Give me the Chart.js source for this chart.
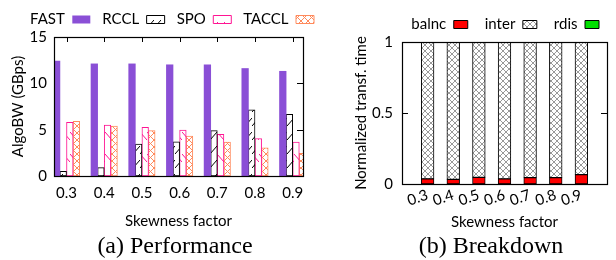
<!DOCTYPE html>
<html>
<head>
<meta charset="utf-8">
<script src="https://cdn.jsdelivr.net/npm/chart.js@4"></script>
<style>
  body { margin: 0; background: #fff; }
  .wrap { position: relative; width: 616px; height: 260px; overflow: hidden; }
  #perf { position: absolute; left: 0; top: 0; }
  #brk { position: absolute; left: 326px; top: 0; }
  .caption {
    position: absolute; top: 232px; height: 26px; line-height: 26px;
    font-family: 'Liberation Serif', serif; font-size: 24px; color: #000;
    text-align: center; white-space: nowrap;
  }
  #capA { left: 0; width: 350px; }
  #capB { left: 391px; width: 200px; }
</style>
</head>
<body>
<div class="wrap">
  <canvas id="perf" width="326" height="260"></canvas>
  <canvas id="brk" width="290" height="260"></canvas>
  <div class="caption" id="capA">(a) Performance</div>
  <div class="caption" id="capB">(b) Breakdown</div>
</div>
<script>
// Skewness factors (x categories)
const skew = [0.3, 0.4, 0.5, 0.6, 0.7, 0.8, 0.9];

// (a) Performance, AlgoBW in GBps
const fast  = [12.4, 12.1, 12.1, 12.0, 12.0, 11.6, 11.3];
const rccl  = [0.5, 0.9, 3.45, 3.7, 4.9, 7.15, 6.65];
const spo   = [5.8, 5.5, 5.25, 4.95, 4.5, 4.05, 3.65];
const taccl = [5.9, 5.4, 4.9, 4.3, 3.65, 3.05, 2.45];
const perfTicks = [0, 5, 10, 15];

// (b) Breakdown, normalized transfer time
const balnc = [0.036, 0.033, 0.047, 0.036, 0.045, 0.045, 0.066];
const inter = [0.964, 0.967, 0.953, 0.964, 0.955, 0.955, 0.934];
const rdis  = [0, 0, 0, 0, 0, 0, 0];
const brkTicks = [0, 0.5, 1];

Chart.defaults.font.family = 'Lato';
Chart.defaults.font.size = 15;
Chart.defaults.color = '#000';
Chart.defaults.animation = false;

// small tile patterns for hatched bars
function makePattern(w, h, color, draw) {
    const c = document.createElement('canvas');
    c.width = w; c.height = h;
    const x = c.getContext('2d');
    x.fillStyle = '#fff';
    x.fillRect(0, 0, w, h);
    x.strokeStyle = color;
    x.lineWidth = 1;
    x.beginPath();
    draw(x, w, h);
    x.stroke();
    return x.createPattern(c, 'repeat');
}

const rcclFill = makePattern(7, 14, '#000', (x, w, h) => {
    x.moveTo(0, h); x.lineTo(w, h - 8);
});
const spoFill = makePattern(7, 22, '#ff1493', (x, w, h) => {
    x.moveTo(0, 0); x.lineTo(w, 8);
});
const tacclFill = makePattern(7, 14, '#ff8a5c', (x, w, h) => {
    x.moveTo(0, 0); x.lineTo(w, 7); x.lineTo(0, 14);
    x.moveTo(w, 0); x.lineTo(0, 7); x.lineTo(w, 14);
});
const interFill = makePattern(6, 6, '#999', (x, w, h) => {
    x.moveTo(0, 0); x.lineTo(w, h);
    x.moveTo(w, 0); x.lineTo(0, h);
});

// gnuplot-like frame with inward tick marks
const framePlugin = {
    id: 'frame',
    beforeDatasetsDraw(chart) {
        const ctx = chart.ctx, a = chart.chartArea;
        const xs = chart.scales.x, ys = chart.scales.y;
        ctx.save();
        ctx.strokeStyle = '#000';
        ctx.lineWidth = 1;
        ctx.beginPath();
        xs.ticks.forEach(t => {
            const px = Math.round(xs.getPixelForValue(t.value)) + 0.5;
            ctx.moveTo(px, a.bottom); ctx.lineTo(px, a.bottom - 5);
            ctx.moveTo(px, a.top); ctx.lineTo(px, a.top + 5);
        });
        ys.ticks.forEach(t => {
            const py = Math.round(ys.getPixelForValue(t.value)) + 0.5;
            ctx.moveTo(a.left, py); ctx.lineTo(a.left + 6, py);
            ctx.moveTo(a.right, py); ctx.lineTo(a.right - 6, py);
        });
        ctx.stroke();
        ctx.restore();
    },
    afterDatasetsDraw(chart) {
        const ctx = chart.ctx, a = chart.chartArea;
        ctx.save();
        ctx.strokeStyle = '#000';
        ctx.lineWidth = 1.2;
        ctx.strokeRect(Math.round(a.left) + 0.5, Math.round(a.top) + 0.5,
            Math.round(a.right - a.left), Math.round(a.bottom - a.top));
        ctx.restore();
    }
};

function fixedTicks(values) {
    return function(scale) {
        scale.ticks = values.map(v => ({ value: v }));
    };
}

// keep the x axis from pushing the plot area sideways
function pinHeight(h) {
    return function(s) {
        s.height = h;
        s.paddingLeft = 0;
        s.paddingRight = 0;
    };
}

// empty right-hand axis, only reserves space so the legend can use the full width
function spacer(w) {
    return {
        position: 'right', display: true,
        grid: { display: false, drawTicks: false }, border: { display: false },
        ticks: { display: false },
        afterFit: s => { s.width = w; }
    };
}

const noGrid = { display: false, drawTicks: false, tickLength: 0 };

// (a) Performance
new Chart(document.getElementById('perf'), {
    type: 'bar',
    data: {
        labels: skew,
        datasets: [
            { label: 'FAST', data: fast, backgroundColor: '#8a4fd6', borderWidth: 0 },
            { label: 'RCCL', data: rccl, backgroundColor: rcclFill, borderColor: '#000', borderWidth: 1, borderSkipped: false },
            { label: 'SPO', data: spo, backgroundColor: spoFill, borderColor: '#ff1493', borderWidth: 1, borderSkipped: false },
            { label: 'TACCL', data: taccl, backgroundColor: tacclFill, borderColor: '#ff8a5c', borderWidth: 1, borderSkipped: false }
        ]
    },
    options: {
        responsive: false,
        barThickness: 6.6,
        layout: { padding: { top: 0, left: 0, right: 0, bottom: 28 } },
        plugins: {
            legend: {
                rtl: true,
                reverse: true,
                align: 'start',
                labels: { boxWidth: 18, boxHeight: 8, padding: 12, font: { size: 15 } }
            },
            tooltip: { enabled: false }
        },
        scales: {
            x: {
                type: 'linear', min: 0.2668, max: 0.9273, offset: false,
                grid: noGrid, border: { display: false },
                afterBuildTicks: fixedTicks(skew),
                ticks: { padding: 8, callback: v => v.toFixed(1) },
                title: { display: true, text: 'Skewness factor', padding: { top: 0, bottom: 2 } },
                afterFit: pinHeight(56)
            },
            y: {
                min: 0, max: 15,
                grid: noGrid, border: { display: false },
                afterBuildTicks: fixedTicks(perfTicks),
                ticks: { padding: 7, callback: v => String(v) },
                title: { display: true, text: 'AlgoBW (GBps)', padding: { top: 9, bottom: 0 } },
                afterFit: s => { s.width = 54; }
            },
            y2: spacer(23)
        }
    },
    plugins: [framePlugin]
});

// (b) Breakdown
new Chart(document.getElementById('brk'), {
    type: 'bar',
    data: {
        labels: skew,
        datasets: [
            { label: 'balnc', data: balnc, backgroundColor: '#ff0000', borderColor: '#000', borderWidth: 1, borderSkipped: false },
            { label: 'inter', data: inter, backgroundColor: interFill, borderColor: '#000', borderWidth: 1, borderSkipped: false },
            { label: 'rdis', data: rdis, backgroundColor: '#00e000', borderColor: '#000', borderWidth: 1, borderSkipped: false }
        ]
    },
    options: {
        responsive: false,
        barThickness: 12.7,
        layout: { padding: { top: 0, left: 0, right: 0, bottom: 28 } },
        plugins: {
            legend: {
                rtl: true,
                reverse: true,
                align: 'start',
                labels: { boxWidth: 14, boxHeight: 8, padding: 17, font: { size: 15 } }
            },
            tooltip: { enabled: false }
        },
        scales: {
            x: {
                type: 'linear', min: 0.2, max: 1.0, stacked: true, offset: false,
                grid: noGrid, border: { display: false },
                afterBuildTicks: fixedTicks(skew),
                ticks: { padding: 2, minRotation: 18, maxRotation: 18, callback: v => v.toFixed(1) },
                title: { display: true, text: 'Skewness factor', padding: { top: 0, bottom: 1 } },
                afterFit: pinHeight(48)
            },
            y: {
                min: 0, max: 1, stacked: true,
                grid: noGrid, border: { display: false },
                afterBuildTicks: fixedTicks(brkTicks),
                ticks: { padding: 9, callback: v => String(v) },
                title: { display: true, text: 'Normalized transf. time', padding: { top: 26, bottom: 0 } },
                afterFit: s => { s.width = 76; }
            },
            y2: spacer(9)
        }
    },
    plugins: [framePlugin]
});
</script>
</body>
</html>
